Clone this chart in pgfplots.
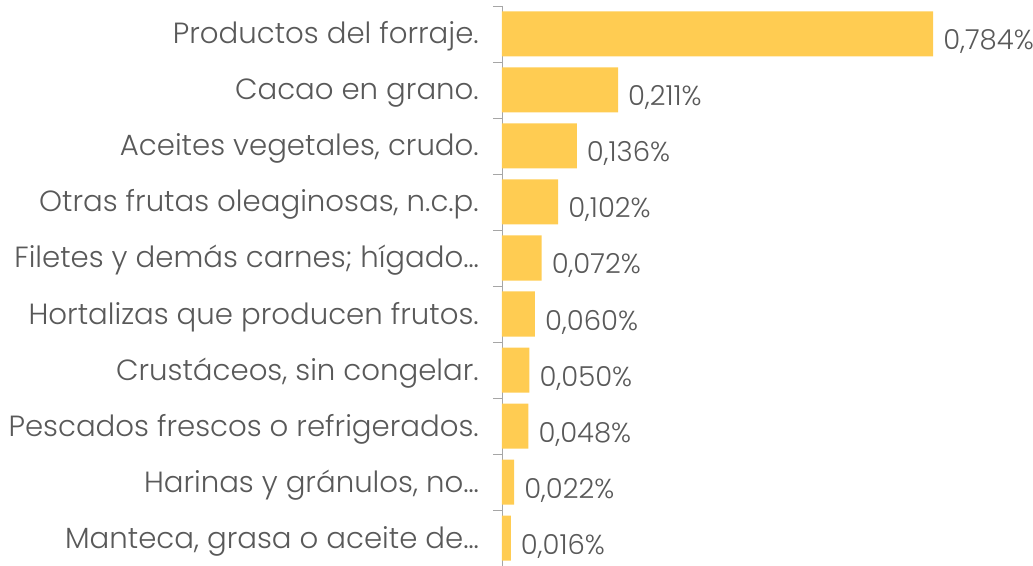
\documentclass[border=0pt]{standalone}
\usepackage{pgfplots}
\pgfplotsset{compat=1.18}
\usepackage{fontspec}
\setmainfont{Poppins}[UprightFont=* Light]
\definecolor{barc}{RGB}{255,204,82}
\definecolor{txt}{RGB}{89,89,89}
\definecolor{axc}{RGB}{166,166,166}
\begin{document}
\begin{tikzpicture}
\begin{axis}[
  name=a,
  scale only axis,
  width=531pt, height=560pt,
  xmin=0, xmax=0.9655,
  ymin=-0.5, ymax=9.5,
  y dir=reverse,
  axis x line=none,
  axis y line*=left,
  y axis line style={axc, line width=0.8pt},
  ytick={0,...,9},
  yticklabels={Productos del forraje., Cacao en grano., {Aceites vegetales, crudo.}, {Otras frutas oleaginosas, n.c.p.}, Filetes y demás carnes; hígado…, Hortalizas que producen frutos., {Crustáceos, sin congelar.}, Pescados frescos o refrigerados., {Harinas y gránulos, no…}, {Manteca, grasa o aceite de…}},
  major tick length=0pt,
  yticklabel style={font=\fontsize{29.2}{34}\selectfont, text=txt, inner sep=0pt, anchor=base east, xshift=-23pt, yshift=-10pt},
  extra y ticks={-0.5,0.5,...,9.5},
  extra y tick labels={},
  extra y tick style={major tick length=9pt, tick align=outside, tick style={axc, line width=0.8pt}},
  xbar, bar width=45pt,
  clip=false,
  nodes near coords={\pgfmathprintnumber[assume math mode=true, fixed, fixed zerofill, precision=3, use comma]{\pgfplotspointmeta}\%},
  point meta=x,
  nodes near coords style={anchor=base west, inner sep=0pt, xshift=10pt, yshift=-16pt, text=txt, font=\fontsize{27.5}{32}\selectfont},
]
\addplot[fill=barc, draw=none] coordinates {
(0.784,0) (0.211,1) (0.136,2) (0.102,3) (0.072,4) (0.060,5) (0.050,6) (0.048,7) (0.022,8) (0.016,9)};
\end{axis}
\pgfresetboundingbox
\path ([xshift=-502pt]a.south west) rectangle ([yshift=6pt]a.north east);
\end{tikzpicture}
\end{document}
